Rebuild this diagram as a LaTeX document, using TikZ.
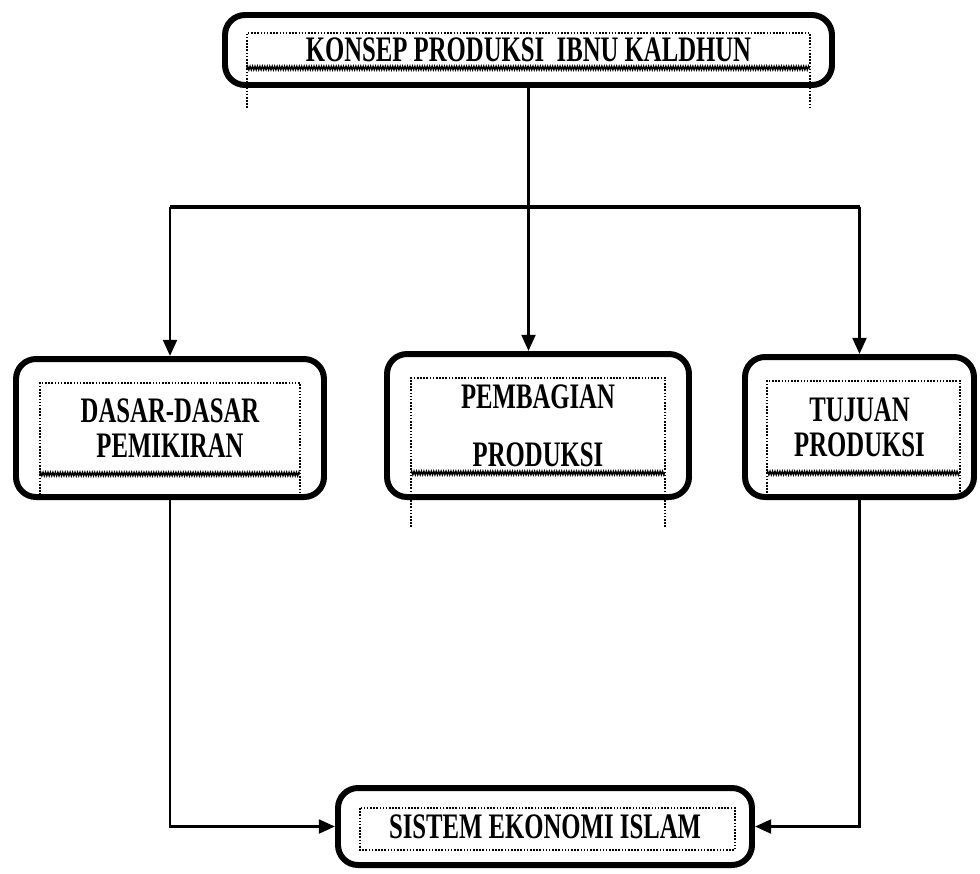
\documentclass[tikz,border=0pt]{standalone}
\usepackage{fontspec}
\setmainfont{Liberation Serif}[FakeStretch=0.69]
\usetikzlibrary{arrows.meta,decorations.pathmorphing}

\tikzset{
  box/.style={draw, rounded corners=2mm, line width=1.7pt, align=center,
    font=\fontsize{10.2}{10}\selectfont\bfseries},
  arr/.style={-{Triangle[length=4.6pt,width=3.9pt]}, line width=0.85pt},
  frame/.style={dash pattern=on 0.45pt off 0.45pt, line width=0.5pt},
  wavy/.style={decorate, decoration={zigzag, segment length=0.7pt, amplitude=0.5pt}, line width=0.4pt}
}
% dotted text frame: left, top, right, bottom (wavy), end of the sides
\newcommand{\innerframe}[5]{%
  \draw[frame] (#1,#5) -- (#1,#2) -- (#3,#2) -- (#3,#5);
  \draw[wavy] (#1,#4) -- (#3,#4);
}

\begin{document}
\begin{tikzpicture}[x=0.1mm, y=-0.1mm]
  \useasboundingbox (0,0) rectangle (980,873);

  \node[box, minimum width=60.7mm, minimum height=7.0mm] (konsep) at (528.5,50) {KONSEP PRODUKSI \ IBNU KALDHUN};
  \node[box, minimum width=30.8mm, minimum height=13.8mm] (dasar) at (170,428) {DASAR-DASAR\\PEMIKIRAN};
  \node[box, minimum width=30.2mm, minimum height=14.3mm] (pembagian) at (538,425.5) {PEMBAGIAN\\[6.5pt]PRODUKSI};
  \node[box, minimum width=22.9mm, minimum height=14.0mm] (tujuan) at (859.5,427) {TUJUAN\\PRODUKSI};
  \node[box, minimum width=41.4mm, minimum height=7.7mm] (sistem) at (545,826.5) {SISTEM EKONOMI ISLAM};

  % text frames
  \innerframe{247}{33}{810}{68}{108}
  \innerframe{40}{383}{300}{474}{495}
  \innerframe{411}{378}{665}{473}{527}
  \innerframe{767}{381}{960}{473}{493}
  \draw[frame] (360,808) rectangle (735,850);

  \coordinate (split) at (530,207);
  \draw[arr] (konsep.south) -- (konsep.south |- pembagian.north);
  \draw[line width=1.4pt] (dasar.north |- split) -- (tujuan.north |- split);
  \draw[arr] (dasar.north |- split) -- (dasar.north);
  \draw[arr] (tujuan.north |- split) -- (tujuan.north);
  \draw[arr] (dasar.south) |- (sistem.west);
  \draw[arr] (tujuan.south) |- (sistem.east);
\end{tikzpicture}
\end{document}
